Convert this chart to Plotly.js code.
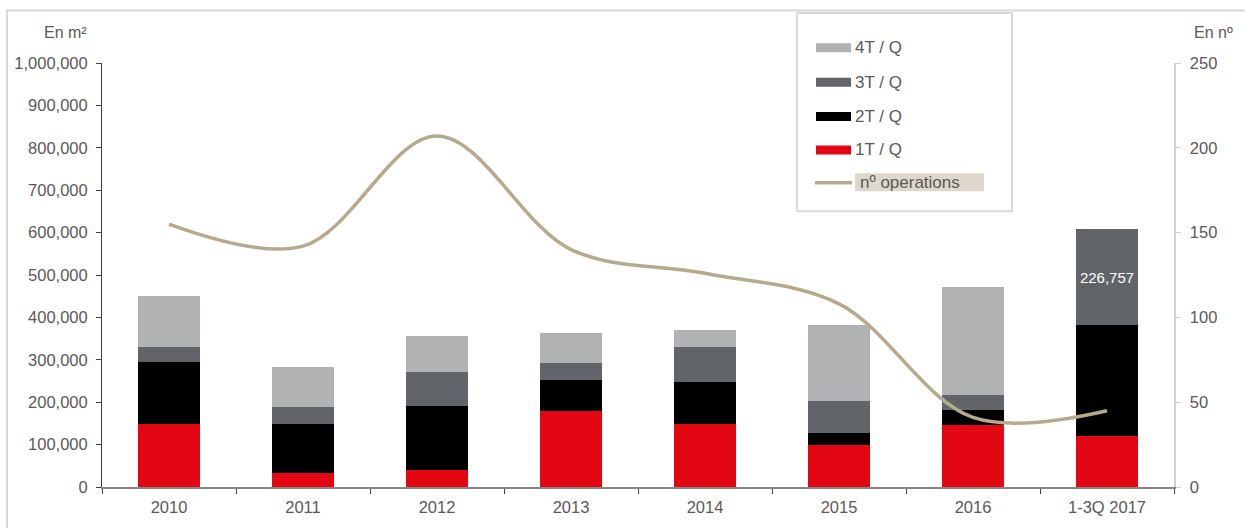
<!DOCTYPE html>
<html>
<head>
<meta charset="utf-8">
<script src="https://cdn.plot.ly/plotly-3.0.1.min.js"></script>
<style>
  html, body { margin: 0; padding: 0; background: #ffffff; }
  #chart { width: 1245px; height: 528px; }
</style>
</head>
<body>
<div id="chart"></div>
<script>
// ---- Data ----
const categories = ['2010', '2011', '2012', '2013', '2014', '2015', '2016', '1-3Q 2017'];
const q1 = [149000, 34000, 39000, 180000, 148000, 99000, 147000, 121000];
const q2 = [146000, 115000, 152000, 73000, 100000, 28000, 34000, 260000];
const q3 = [36000, 40000, 80000, 39000, 83000, 75000, 35000, 226757];
const q4 = [120000, 93000, 84000, 71000, 40000, 181000, 255000, null];
const operations = [155, 142, 207, 140, 126, 108, 41, 45];
const q3Labels = ['', '', '', '', '', '', '', '226,757'];
const seriesNames = ['1T / Q', '2T / Q', '3T / Q', '4T / Q', 'nº operations'];
const leftTitle = 'En m²';
const rightTitle = 'En nº';

// ---- Styles ----
const colors = { q1: '#e30613', q2: '#000000', q3: '#616469', q4: '#b1b2b4', ops: '#b5aa8b' };
const FONT = 'Liberation Sans, Arial, sans-serif';
const TXT = '#595959';

// plot area in pixels: x 102..1174, y 62.5..487
const L = 102, R = 1174, T = 62.5, B = 487;
const px = v => (v - L) / (R - L);
const py = v => (B - v) / (B - T);

const barCommon = { type: 'bar', x: categories, yaxis: 'y', hoverinfo: 'x+y', showlegend: false, marker: {line: {width: 0}} };

const traces = [
  Object.assign({}, barCommon, { name: seriesNames[0], y: q1, marker: { color: colors.q1 } }),
  Object.assign({}, barCommon, { name: seriesNames[1], y: q2, marker: { color: colors.q2 } }),
  Object.assign({}, barCommon, { name: seriesNames[2], y: q3, marker: { color: colors.q3 },
    text: q3Labels, textposition: 'inside', insidetextanchor: 'middle',
    textfont: { family: FONT, size: 15, color: '#ffffff' }, constraintext: 'none' }),
  Object.assign({}, barCommon, { name: seriesNames[3], y: q4, marker: { color: colors.q4 } }),
  { type: 'scatter', mode: 'lines', name: seriesNames[4], x: categories, y: operations, yaxis: 'y2',
    line: { color: colors.ops, width: 3.5, shape: 'spline', smoothing: 1.0 }, showlegend: false }
];

// ---- Custom legend (swatches + labels) ----
const legendItems = [
  { name: seriesNames[3], color: colors.q4, y: 47.3, kind: 'bar' },
  { name: seriesNames[2], color: colors.q3, y: 81.7, kind: 'bar' },
  { name: seriesNames[1], color: colors.q2, y: 116, kind: 'bar' },
  { name: seriesNames[0], color: colors.q1, y: 149.5, kind: 'bar' },
  { name: seriesNames[4], color: colors.ops, y: 182.5, kind: 'line' }
];

const shapes = [
  // outer frame (top and left visible)
  { type: 'rect', xref: 'paper', yref: 'paper', x0: px(7), x1: px(1260), y0: py(545), y1: py(10),
    line: { color: '#d9d9d9', width: 2 }, fillcolor: 'rgba(0,0,0,0)', layer: 'below' },
  // legend box
  { type: 'rect', xref: 'paper', yref: 'paper', x0: px(797), x1: px(1012), y0: py(211), y1: py(12.5),
    line: { color: '#d9d9d9', width: 2 }, fillcolor: '#ffffff', layer: 'above' },
  // background for "nº operations" label
  { type: 'rect', xref: 'paper', yref: 'paper', x0: px(855), x1: px(984), y0: py(191), y1: py(173),
    line: { width: 0 }, fillcolor: '#ddd8ca', layer: 'above' }
];
const annotations = [
  { xref: 'paper', yref: 'paper', x: px(89), y: py(32), xanchor: 'right', yanchor: 'middle', showarrow: false,
    text: leftTitle, font: { family: FONT, size: 16, color: TXT } },
  { xref: 'paper', yref: 'paper', x: px(1192), y: py(32), xanchor: 'left', yanchor: 'middle', showarrow: false,
    text: rightTitle, font: { family: FONT, size: 16, color: TXT } }
];
legendItems.forEach(it => {
  if (it.kind === 'bar') {
    shapes.push({ type: 'rect', xref: 'paper', yref: 'paper', x0: px(816), x1: px(851),
      y0: py(it.y + 4.5), y1: py(it.y - 4.5), line: { width: 0 }, fillcolor: it.color, layer: 'above' });
  } else {
    shapes.push({ type: 'line', xref: 'paper', yref: 'paper', x0: px(815), x1: px(852),
      y0: py(it.y), y1: py(it.y), line: { color: it.color, width: 3.5 }, layer: 'above' });
  }
  annotations.push({ xref: 'paper', yref: 'paper', x: px(it.kind === 'bar' ? 853 : 858), y: py(it.y),
    xanchor: 'left', yanchor: 'middle', showarrow: false, text: it.name,
    font: { family: FONT, size: 17, color: TXT } });
});

const layout = {
  width: 1245, height: 528,
  margin: { l: L, r: 1245 - R, t: T, b: 528 - B, pad: 0 },
  paper_bgcolor: '#ffffff', plot_bgcolor: '#ffffff',
  barmode: 'stack', bargap: 0.53,
  showlegend: false,
  font: { family: FONT, size: 16, color: TXT },
  xaxis: {
    type: 'category', showgrid: false, zeroline: false,
    showline: true, linecolor: '#868686', linewidth: 2,
    ticks: 'outside', tickson: 'boundaries', ticklen: 5, tickcolor: '#404040', tickwidth: 1,
    ticklabelstandoff: 4,
    tickfont: { family: FONT, size: 16.5, color: TXT }
  },
  yaxis: {
    range: [0, 1000000], dtick: 100000, tickformat: ',d',
    showgrid: false, zeroline: false, showline: true, linecolor: '#404040', linewidth: 1,
    ticks: 'outside', ticklen: 5, tickcolor: '#404040', ticklabelstandoff: 5,
    tickfont: { family: FONT, size: 16.5, color: TXT }
  },
  yaxis2: {
    overlaying: 'y', side: 'right', range: [0, 250], dtick: 50,
    showgrid: false, zeroline: false, showline: true, linecolor: '#d0d0d0', linewidth: 1.5,
    ticks: 'outside', ticklen: 5, tickcolor: '#d0d0d0', ticklabelstandoff: 6,
    tickfont: { family: FONT, size: 16.5, color: TXT }
  },
  shapes: shapes,
  annotations: annotations
};

Plotly.newPlot('chart', traces, layout, { displayModeBar: false, staticPlot: true });
</script>
</body>
</html>
